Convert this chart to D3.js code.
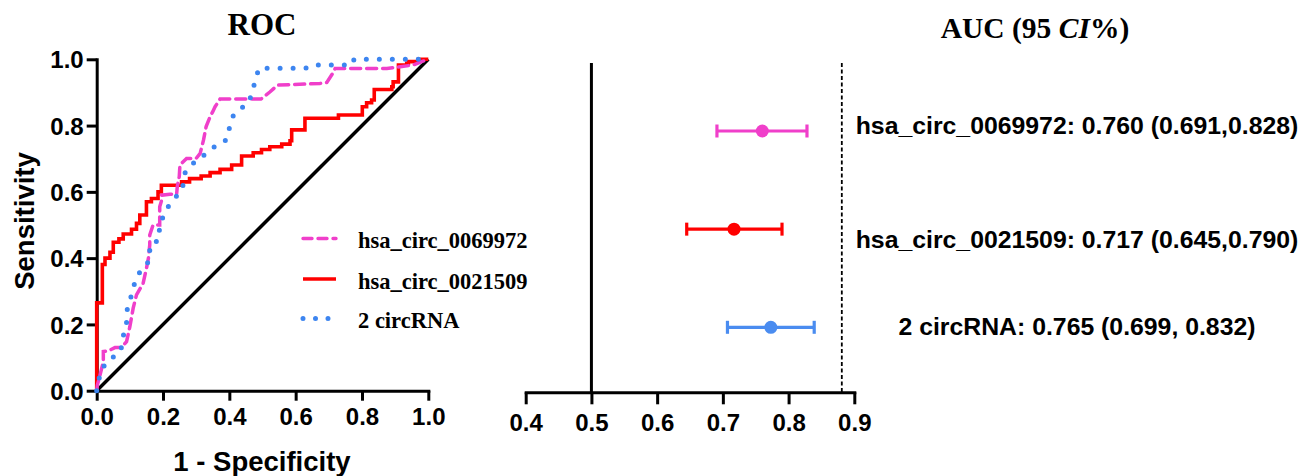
<!DOCTYPE html>
<html>
<head>
<meta charset="utf-8">
<script src="https://cdn.jsdelivr.net/npm/d3@7"></script>
<style>
  html, body { margin: 0; padding: 0; background: #fff; }
  svg { display: block; }
</style>
</head>
<body>
<svg id="chart" width="1311" height="476"></svg>
<script>
// ---------------- DATA ----------------
const rocTicks = [0, 0.2, 0.4, 0.6, 0.8, 1.0];
const forestTicks = [0.4, 0.5, 0.6, 0.7, 0.8, 0.9];

const seriesNames = ["hsa_circ_0069972", "hsa_circ_0021509", "2 circRNA"];

// ROC curve vertices [1 - specificity, sensitivity]
const rocPink = [[0,0],[0.002,0.017],[0.01,0.047],[0.02,0.088],[0.02,0.118],[0.035,0.12],[0.055,0.13],[0.075,0.13],
  [0.09,0.148],[0.10,0.193],[0.11,0.249],[0.12,0.289],[0.14,0.324],[0.15,0.369],[0.156,0.40],[0.16,0.44],[0.16,0.47],
  [0.17,0.50],[0.19,0.50],[0.19,0.555],[0.196,0.575],[0.196,0.59],[0.221,0.593],[0.241,0.593],[0.243,0.616],
  [0.249,0.646],[0.251,0.681],[0.271,0.701],[0.30,0.701],[0.312,0.716],[0.322,0.756],[0.33,0.797],[0.342,0.827],
  [0.35,0.842],[0.357,0.857],[0.372,0.88],[0.495,0.88],[0.523,0.902],[0.545,0.922],[0.673,0.927],[0.694,0.93],
  [0.712,0.958],[0.719,0.972],[0.875,0.972],[0.955,0.983],[0.98,0.993],[1,1]];

const rocRed = [[0,0],[0,0.265],[0.017,0.265],[0.017,0.381],[0.025,0.381],[0.025,0.40],[0.04,0.40],[0.04,0.418],
  [0.05,0.418],[0.05,0.448],[0.067,0.448],[0.067,0.458],[0.08,0.458],[0.08,0.473],[0.105,0.473],[0.105,0.487],
  [0.12,0.487],[0.12,0.505],[0.13,0.505],[0.13,0.53],[0.15,0.53],[0.15,0.57],[0.165,0.57],[0.165,0.58],[0.185,0.58],
  [0.185,0.60],[0.195,0.60],[0.195,0.62],[0.256,0.62],[0.256,0.63],[0.28,0.63],[0.28,0.64],[0.315,0.64],[0.315,0.648],
  [0.342,0.648],[0.342,0.658],[0.372,0.658],[0.372,0.668],[0.407,0.668],[0.407,0.681],[0.437,0.681],[0.437,0.708],
  [0.472,0.708],[0.472,0.718],[0.497,0.718],[0.497,0.728],[0.522,0.728],[0.522,0.736],[0.558,0.736],[0.558,0.744],
  [0.583,0.744],[0.583,0.754],[0.588,0.754],[0.588,0.787],[0.628,0.787],[0.628,0.822],[0.729,0.822],[0.729,0.832],
  [0.801,0.832],[0.801,0.857],[0.814,0.857],[0.814,0.869],[0.829,0.869],[0.829,0.877],[0.837,0.877],[0.837,0.909],
  [0.89,0.909],[0.89,0.917],[0.894,0.917],[0.894,0.932],[0.91,0.932],[0.91,0.983],[0.935,0.983],[0.935,0.988],
  [0.94,0.988],[0.94,0.993],[0.97,0.993],[0.97,1],[1,1]];

const rocBlue = [[0,0],[0.01,0.05],[0.025,0.08],[0.048,0.10],[0.073,0.12],[0.078,0.16],[0.09,0.195],[0.09,0.238],
  [0.10,0.27],[0.11,0.309],[0.12,0.344],[0.14,0.37],[0.16,0.394],[0.16,0.44],[0.189,0.455],[0.189,0.50],[0.203,0.53],
  [0.219,0.562],[0.239,0.585],[0.259,0.611],[0.264,0.654],[0.284,0.681],[0.309,0.70],[0.337,0.721],[0.36,0.74],
  [0.39,0.756],[0.40,0.792],[0.41,0.827],[0.43,0.849],[0.458,0.867],[0.469,0.902],[0.479,0.938],[0.489,0.973],
  [0.63,0.973],[0.65,0.983],[0.77,0.983],[0.776,1.0],[1,1]];

const referenceDiagonal = [[0,0],[1,1]];

// Forest plot (AUC with 95% CI)
const forestLabels = ["hsa_circ_0069972: 0.760 (0.691,0.828)", "hsa_circ_0021509: 0.717 (0.645,0.790)", "2 circRNA: 0.765 (0.699, 0.832)"];
const forestAuc   = [0.760, 0.717, 0.773];
const forestLower = [0.691, 0.645, 0.707];
const forestUpper = [0.828, 0.790, 0.839];
const forestRefSolid = 0.5;
const forestRefDashed = 0.881;

// ---------------- STYLE / LAYOUT ----------------
const colors = ["#f03fca", "#ff0000", "#3d85f0"];
const forestColors = ["#f03fca", "#ff0000", "#4a8cf0"];
const sans = "'Liberation Sans', Arial, sans-serif";
const serif = "'Liberation Serif', 'Times New Roman', serif";
const tickFont = "24px";

const svg = d3.select("#chart");

// ROC scales
const x = d3.scaleLinear().domain([0, 1]).range([96.7, 428.3]);
const y = d3.scaleLinear().domain([0, 1]).range([390.7, 59.3]);

// Axes
const xAxis = svg.append("g").attr("transform", `translate(0,${y(0)})`)
  .call(d3.axisBottom(x).tickValues(rocTicks).tickFormat(d3.format(".1f")).tickSize(10).tickPadding(3).tickSizeOuter(0));
const yAxis = svg.append("g").attr("transform", `translate(${x(0)},0)`)
  .call(d3.axisLeft(y).tickValues(rocTicks).tickFormat(d3.format(".1f")).tickSize(10).tickPadding(3).tickSizeOuter(0));
[xAxis, yAxis].forEach(g => {
  g.select(".domain").attr("stroke", "#000").attr("stroke-width", 3).attr("stroke-linecap", "square");
  g.selectAll(".tick line").attr("stroke", "#000").attr("stroke-width", 3);
  g.selectAll(".tick text").attr("fill", "#000").style("font-family", sans).style("font-weight", "bold").style("font-size", tickFont);
});
xAxis.selectAll(".tick text").attr("dy", "0.9em");
yAxis.selectAll(".tick text").attr("dy", "0.36em");

const line = d3.line().x(d => x(d[0])).y(d => y(d[1]));

svg.append("path").datum(referenceDiagonal).attr("d", line)
  .attr("fill", "none").attr("stroke", "#000").attr("stroke-width", 3.4);

svg.append("path").datum(rocRed).attr("d", line)
  .attr("fill", "none").attr("stroke", colors[1]).attr("stroke-width", 3.6).attr("stroke-linejoin", "miter");

svg.append("path").datum(rocPink).attr("d", line)
  .attr("fill", "none").attr("stroke", colors[0]).attr("stroke-width", 3.5)
  .attr("stroke-dasharray", "10,6").attr("stroke-linecap", "round");

svg.append("path").datum(rocBlue).attr("d", line)
  .attr("fill", "none").attr("stroke", colors[2]).attr("stroke-width", 5)
  .attr("stroke-dasharray", "0,13").attr("stroke-linecap", "round");

// Titles
svg.append("text").attr("x", 262).attr("y", 35).attr("text-anchor", "middle")
  .style("font-family", serif).style("font-weight", "bold").style("font-size", "31px").text("ROC");

svg.append("text").attr("x", 262).attr("y", 470.5).attr("text-anchor", "middle")
  .style("font-family", sans).style("font-weight", "bold").style("font-size", "27.5px").text("1 - Specificity");

svg.append("text").attr("transform", "translate(33.5,221) rotate(-90)").attr("text-anchor", "middle")
  .style("font-family", sans).style("font-weight", "bold").style("font-size", "27.5px").text("Sensitivity");

// Legend
const legendY = [238.5, 279, 318.5];
const legendStyles = [
  {dash: "9,6", width: 3.4, cap: "round"},
  {dash: null, width: 3.6, cap: "butt"},
  {dash: "0,12.5", width: 5, cap: "round"}
];
seriesNames.forEach((name, i) => {
  const g = svg.append("g");
  const l = g.append("line").attr("x1", 303).attr("x2", 336).attr("y1", legendY[i]).attr("y2", legendY[i])
    .attr("stroke", colors[i]).attr("stroke-width", legendStyles[i].width).attr("stroke-linecap", legendStyles[i].cap);
  if (legendStyles[i].dash) l.attr("stroke-dasharray", legendStyles[i].dash);
  g.append("text").attr("x", 358).attr("y", legendY[i] + 9.5)
    .style("font-family", serif).style("font-weight", "bold").style("font-size", "22.5px").text(name);
});

// ---------------- FOREST PLOT ----------------
const fx = d3.scaleLinear().domain([0.4, 0.9]).range([525.7, 854.3]);
const fy = d3.scalePoint().domain(forestLabels).range([131, 327.3]);
const forestAxisY = 392.3;
const forestTop = 63;

const fAxis = svg.append("g").attr("transform", `translate(0,${forestAxisY})`)
  .call(d3.axisBottom(fx).tickValues(forestTicks).tickFormat(d3.format(".1f")).tickSize(12).tickPadding(9).tickSizeOuter(0));
fAxis.select(".domain").attr("stroke", "#000").attr("stroke-width", 3).attr("stroke-linecap", "square");
fAxis.selectAll(".tick line").attr("stroke", "#000").attr("stroke-width", 3);
fAxis.selectAll(".tick text").attr("fill", "#000").attr("dy", "0.75em")
  .style("font-family", sans).style("font-weight", "bold").style("font-size", tickFont);

svg.append("line").attr("x1", fx(forestRefSolid)).attr("x2", fx(forestRefSolid))
  .attr("y1", forestTop).attr("y2", forestAxisY).attr("stroke", "#000").attr("stroke-width", 3);
svg.append("line").attr("x1", fx(forestRefDashed)).attr("x2", fx(forestRefDashed))
  .attr("y1", forestTop).attr("y2", forestAxisY).attr("stroke", "#000").attr("stroke-width", 1.8)
  .attr("stroke-dasharray", "4,2.5");

svg.append("text").attr("x", 1035).attr("y", 38).attr("text-anchor", "middle")
  .style("font-family", serif).style("font-weight", "bold").style("font-size", "29.5px")
  .call(t => {
    t.append("tspan").text("AUC (95 ");
    t.append("tspan").style("font-style", "italic").text("CI");
    t.append("tspan").text("%)");
  });

const labelDy = [3.3, 19, 7.7];
forestLabels.forEach((lab, i) => {
  const cy = fy(lab);
  const g = svg.append("g");
  g.append("line").attr("x1", fx(forestLower[i])).attr("x2", fx(forestUpper[i])).attr("y1", cy).attr("y2", cy)
    .attr("stroke", forestColors[i]).attr("stroke-width", 3.2);
  [forestLower[i], forestUpper[i]].forEach(v => {
    g.append("line").attr("x1", fx(v)).attr("x2", fx(v)).attr("y1", cy - 6.5).attr("y2", cy + 6.5)
      .attr("stroke", forestColors[i]).attr("stroke-width", 3.2);
  });
  g.append("circle").attr("cx", fx(forestAuc[i])).attr("cy", cy).attr("r", 6.5).attr("fill", forestColors[i]);
  svg.append("text").attr("x", 1077).attr("y", cy + labelDy[i]).attr("text-anchor", "middle")
    .style("font-family", sans).style("font-weight", "bold").style("font-size", "24.8px").text(lab);
});
</script>
</body>
</html>
